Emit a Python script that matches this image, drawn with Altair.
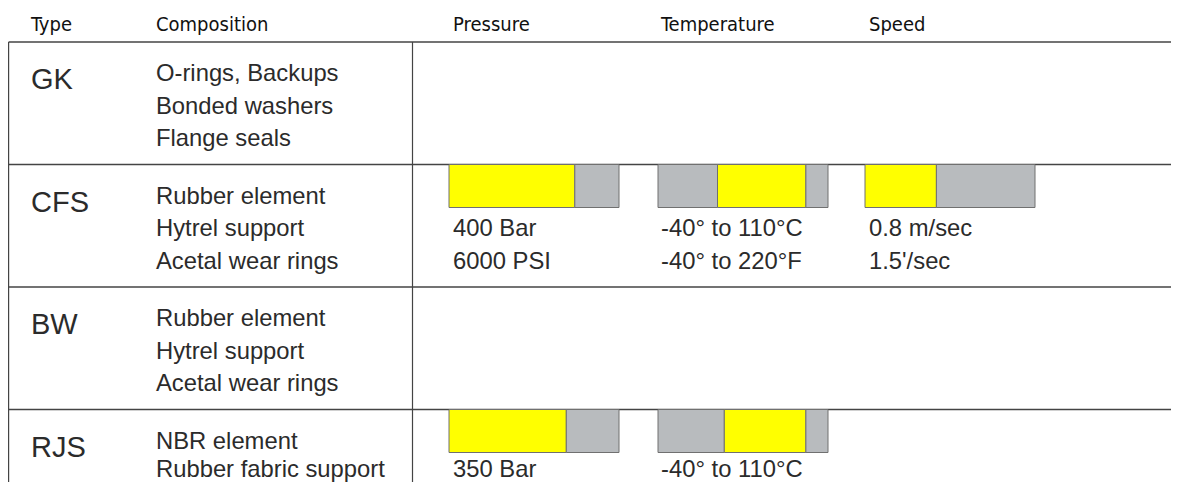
import altair as alt
import pandas as pd

# ---------------- data ----------------
types = ["GK", "CFS", "BW", "RJS"]
composition = [
    ["O-rings, Backups", "Bonded washers", "Flange seals"],
    ["Rubber element", "Hytrel support", "Acetal wear rings"],
    ["Rubber element", "Hytrel support", "Acetal wear rings"],
    ["NBR element", "Rubber fabric support"],
]
headers = ["Type", "Composition", "Pressure", "Temperature", "Speed"]

# gauge readings (fraction of gauge length) per type
pressure_fill = {"CFS": 0.74, "RJS": 0.69}
temperature_band = {"CFS": (0.35, 0.87), "RJS": (0.39, 0.87)}
speed_fill = {"CFS": 0.42}

pressure_text = {"CFS": ["400 Bar", "6000 PSI"], "RJS": ["350 Bar"]}
temperature_text = {"CFS": ["-40° to 110°C", "-40° to 220°F"], "RJS": ["-40° to 110°C"]}
speed_text = {"CFS": ["0.8 m/sec", "1.5'/sec"]}

# ---------------- layout ----------------
W, H = 1163, 474          # drawing size (page px)
X0, Y0 = 8, 8             # page margin
HEADER_LINE = 42
ROW_H = 122.5
COL_X = [31, 156, 453, 661, 869]     # text column starts
GAUGE_X = {"Pressure": 449, "Temperature": 658, "Speed": 865}
GAUGE_W = 170
BAR_H = 43
LEFT_BORDER = 8.6
DIVIDER = 412.5
LINE_OFF = [39, 71.5, 104]
LABEL_OFF = 47
BODY_SIZE = 23.8
MAX_BASELINE = Y0 + H - 0.22 * BODY_SIZE   # keep descenders inside the drawing

YELLOW = "#FFFF00"
GREY = "#B8BBBE"
EDGE = "#707070"
TEXT = "#2b2b2b"
LINE = "#444444"
HEAD_FONT = "DejaVu Sans Condensed, Roboto Condensed, Roboto, sans-serif"
BODY_FONT = "Liberation Sans, Arial, sans-serif"

def row_top(i):
    return HEADER_LINE + i * ROW_H

def line_y(top, k):
    return min(top + LINE_OFF[k], MAX_BASELINE)

# segments
seg_rows = []
for i, t in enumerate(types):
    top = row_top(i)
    if t in pressure_fill:
        f = pressure_fill[t]
        seg_rows += [("Pressure", 0, f, YELLOW, top), ("Pressure", f, 1, GREY, top)]
    if t in temperature_band:
        lo, hi = temperature_band[t]
        seg_rows += [("Temperature", 0, lo, GREY, top), ("Temperature", lo, hi, YELLOW, top),
                     ("Temperature", hi, 1, GREY, top)]
    if t in speed_fill:
        f = speed_fill[t]
        seg_rows += [("Speed", 0, f, YELLOW, top), ("Speed", f, 1, GREY, top)]
segs = pd.DataFrame(seg_rows, columns=["gauge", "f0", "f1", "color", "top"])
segs["x0"] = segs.apply(lambda r: GAUGE_X[r.gauge] + r.f0 * GAUGE_W, axis=1)
segs["x1"] = segs.apply(lambda r: GAUGE_X[r.gauge] + r.f1 * GAUGE_W, axis=1)
segs["y0"] = segs["top"]
segs["y1"] = segs["top"] + BAR_H

# texts
body = []
labels = []
for i, t in enumerate(types):
    top = row_top(i)
    labels.append({"x": COL_X[0], "y": top + LABEL_OFF, "text": t})
    for k, s in enumerate(composition[i]):
        body.append({"x": COL_X[1], "y": line_y(top, k), "text": s})
    for col, d in ((2, pressure_text), (3, temperature_text), (4, speed_text)):
        for k, s in enumerate(d.get(t, [])):
            body.append({"x": COL_X[col], "y": line_y(top, k + 1), "text": s})
body = pd.DataFrame(body)
labels = pd.DataFrame(labels)
head = pd.DataFrame({"x": COL_X, "y": [31] * 5, "text": headers})

# lines
hlines = pd.DataFrame({"x0": LEFT_BORDER, "x1": X0 + W,
                       "y": [HEADER_LINE] + [row_top(i) for i in range(1, len(types))]})
vlines = pd.DataFrame({"x": [LEFT_BORDER, DIVIDER], "y0": HEADER_LINE, "y1": Y0 + H})

xs = alt.Scale(domain=[X0, X0 + W], nice=False, zero=False)
ys = alt.Scale(domain=[Y0, Y0 + H], nice=False, zero=False, reverse=True)
noax = dict(axis=None)

bars = alt.Chart(segs).mark_rect(stroke=EDGE, strokeWidth=1).encode(
    x=alt.X("x0:Q", scale=xs, **noax), x2="x1:Q",
    y=alt.Y("y0:Q", scale=ys, **noax), y2="y1:Q",
    fill=alt.Fill("color:N", scale=None),
)
hl = alt.Chart(hlines).mark_rule(color=LINE, strokeWidth=1.4).encode(
    x=alt.X("x0:Q", scale=xs, **noax), x2="x1:Q",
    y=alt.Y("y:Q", scale=ys, **noax),
)
vl = alt.Chart(vlines).mark_rule(color=LINE, strokeWidth=1.2).encode(
    x=alt.X("x:Q", scale=xs, **noax),
    y=alt.Y("y0:Q", scale=ys, **noax), y2="y1:Q",
)
head_t = alt.Chart(head).mark_text(align="left", baseline="alphabetic", fontSize=20,
                                   font=HEAD_FONT, color="#111111").encode(
    x=alt.X("x:Q", scale=xs, **noax), y=alt.Y("y:Q", scale=ys, **noax), text="text:N")
lab_t = alt.Chart(labels).mark_text(align="left", baseline="alphabetic", fontSize=29,
                                    font=BODY_FONT, color=TEXT).encode(
    x=alt.X("x:Q", scale=xs, **noax), y=alt.Y("y:Q", scale=ys, **noax), text="text:N")
body_t = alt.Chart(body).mark_text(align="left", baseline="alphabetic", fontSize=BODY_SIZE,
                                   font=BODY_FONT, color=TEXT).encode(
    x=alt.X("x:Q", scale=xs, **noax), y=alt.Y("y:Q", scale=ys, **noax), text="text:N")

chart = alt.layer(hl, vl, bars, head_t, lab_t, body_t).properties(
    width=W, height=H, padding=0, autosize=alt.AutoSizeParams(type="none"),
).configure_view(stroke=None)

chart.save("out.html", embed_options={"renderer": "svg", "actions": False})
